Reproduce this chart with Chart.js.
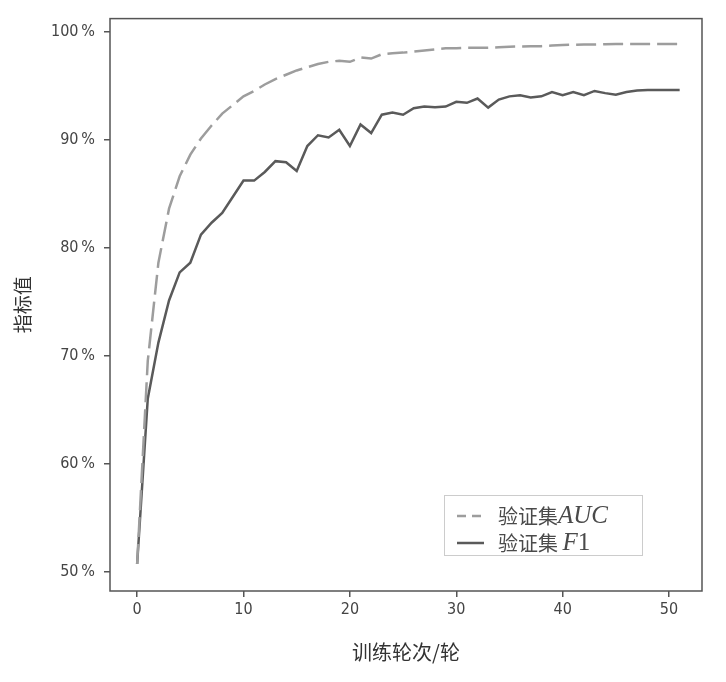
<!DOCTYPE html>
<html>
<head>
<meta charset="utf-8">
<script src="https://cdn.jsdelivr.net/npm/chart.js@4.4.0/dist/chart.umd.min.js"></script>
<style>
  html, body { margin: 0; padding: 0; background: #fff; }
</style>
</head>
<body>
<canvas id="myChart" width="726" height="682"></canvas>
<script>
// epochs 0..51
const epochs = [0, 1, 2, 3, 4, 5, 6, 7, 8, 9, 10, 11, 12, 13, 14, 15, 16, 17, 18, 19, 20,
    21, 22, 23, 24, 25, 26, 27, 28, 29, 30, 31, 32, 33, 34, 35, 36, 37, 38, 39, 40,
    41, 42, 43, 44, 45, 46, 47, 48, 49, 50, 51];

// validation AUC (%)
const aucValues = [50.7, 69.5, 78.6, 83.6, 86.6, 88.6, 90.1, 91.3, 92.4, 93.2, 94.0,
    94.5, 95.1, 95.6, 96.0, 96.4, 96.7, 97.0, 97.2, 97.3, 97.2,
    97.6, 97.5, 97.9, 98.0, 98.05, 98.15, 98.25, 98.35, 98.45, 98.45,
    98.5, 98.5, 98.5, 98.55, 98.6, 98.62, 98.63, 98.65, 98.7, 98.75,
    98.78, 98.8, 98.8, 98.82, 98.84, 98.84, 98.84, 98.84, 98.84, 98.84, 98.84];

// validation F1 (%)
const f1Values = [50.7, 66.0, 71.2, 75.1, 77.7, 78.6, 81.2, 82.3, 83.2, 84.7, 86.2,
    86.2, 87.0, 88.0, 87.9, 87.1, 89.4, 90.4, 90.2, 90.9, 89.4,
    91.4, 90.6, 92.3, 92.5, 92.3, 92.9, 93.05, 93.0, 93.05, 93.5,
    93.4, 93.8, 92.96, 93.7, 94.0, 94.1, 93.9, 94.0, 94.4, 94.1,
    94.4, 94.1, 94.5, 94.3, 94.15, 94.4, 94.55, 94.6, 94.6, 94.6, 94.6];

const xTicks = [0, 10, 20, 30, 40, 50];
const yTicks = [50, 60, 70, 80, 90, 100];

const axisColor = '#555555';
const tickFont = { family: 'DejaVu Sans Condensed', size: 16 };

// box round the whole plot area
const framePlugin = {
    id: 'frame',
    afterDraw(chart) {
        const { ctx, chartArea: a } = chart;
        ctx.save();
        ctx.strokeStyle = axisColor;
        ctx.lineWidth = 1.5;
        ctx.strokeRect(a.left, a.top, a.right - a.left, a.bottom - a.top);
        ctx.restore();
    }
};

// legend with mixed fonts (CJK + italic latin)
const legendPlugin = {
    id: 'customLegend',
    afterDraw(chart) {
        const { ctx, chartArea: a } = chart;
        const bx = a.right - 258, by = a.bottom - 96, bw = 198, bh = 60;
        ctx.save();
        ctx.strokeStyle = '#cccccc';
        ctx.lineWidth = 1;
        ctx.strokeRect(bx + 0.5, by + 0.5, bw, bh);

        const rows = [
            { y: by + 21, ds: chart.data.datasets[0], parts: [['验证集', '20px "Noto Sans CJK SC"'], ['AUC', 'italic 25px "Liberation Serif"']] },
            { y: by + 48, ds: chart.data.datasets[1], parts: [['验证集 ', '20px "Noto Sans CJK SC"'], ['F', 'italic 25px "Liberation Serif"'], ['1', '25px "Liberation Serif"']] }
        ];
        rows.forEach(r => {
            ctx.strokeStyle = r.ds.borderColor;
            ctx.lineWidth = 2.5;
            ctx.setLineDash(r.ds.borderDash ? [9, 6] : []);
            ctx.beginPath();
            ctx.moveTo(bx + 13, r.y);
            ctx.lineTo(bx + 40, r.y);
            ctx.stroke();
            ctx.setLineDash([]);
            ctx.fillStyle = '#4a4a4a';
            ctx.textBaseline = 'middle';
            let x = bx + 54;
            r.parts.forEach(p => {
                ctx.font = p[1];
                ctx.fillText(p[0], x, r.y);
                x += ctx.measureText(p[0]).width;
            });
        });
        ctx.restore();
    }
};

const ctx = document.getElementById('myChart').getContext('2d');
new Chart(ctx, {
    type: 'line',
    data: {
        datasets: [
            {
                label: '验证集AUC',
                data: epochs.map((e, i) => ({ x: e, y: aucValues[i] })),
                borderColor: '#9d9d9d',
                borderWidth: 2.5,
                borderDash: [20, 7],
                pointRadius: 0,
                fill: false
            },
            {
                label: '验证集 F1',
                data: epochs.map((e, i) => ({ x: e, y: f1Values[i] })),
                borderColor: '#5a5a5a',
                borderWidth: 2.5,
                pointRadius: 0,
                fill: false
            }
        ]
    },
    options: {
        responsive: false,
        animation: false,
        devicePixelRatio: 1,
        layout: { padding: { top: 11, right: 24, left: 0, bottom: 0 } },
        plugins: {
            legend: { display: false },
            tooltip: { enabled: false }
        },
        scales: {
            x: {
                type: 'linear',
                min: -2.55,
                max: 53.1,
                afterFit: s => { s.height = 91; },
                afterBuildTicks: s => { s.ticks = xTicks.map(v => ({ value: v })); },
                border: { display: false },
                grid: { drawOnChartArea: false, drawTicks: true, tickLength: 6, color: axisColor, lineWidth: 1.5 },
                ticks: { font: tickFont, color: '#444', padding: 3, maxRotation: 0 },
                title: {
                    display: true,
                    text: '训练轮次/轮',
                    color: '#333',
                    font: { family: 'Noto Sans CJK SC', size: 20 },
                    padding: { top: 0, bottom: 18 }
                }
            },
            y: {
                type: 'linear',
                min: 48.2,
                max: 101.2,
                afterFit: s => { s.width = 110; },
                afterBuildTicks: s => { s.ticks = yTicks.map(v => ({ value: v })); },
                border: { display: false },
                grid: { drawOnChartArea: false, drawTicks: true, tickLength: 6, color: axisColor, lineWidth: 1.5 },
                ticks: { font: tickFont, color: '#444', padding: 9, callback: v => v + '\u2009%' },
                title: {
                    display: true,
                    text: '指标值',
                    color: '#333',
                    font: { family: 'Noto Sans CJK SC', size: 19 },
                    padding: { top: 11, bottom: 0 }
                }
            }
        }
    },
    plugins: [framePlugin, legendPlugin]
});
</script>
</body>
</html>
